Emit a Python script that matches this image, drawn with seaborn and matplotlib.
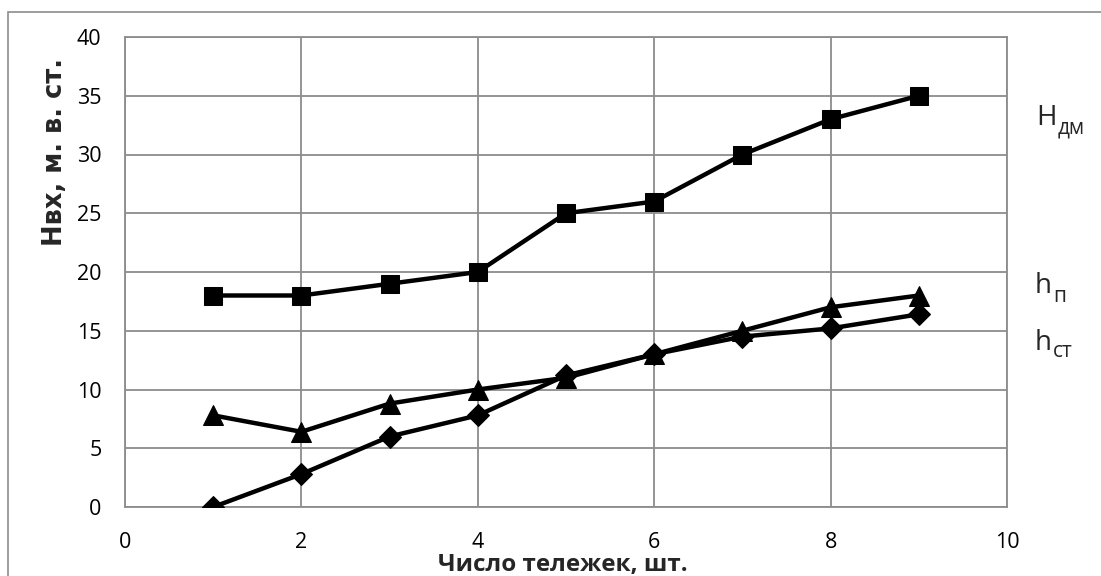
import matplotlib
matplotlib.use("Agg")
import matplotlib.pyplot as plt
from matplotlib.patches import Rectangle
import seaborn as sns
import pandas as pd

# Number of carts
carts = [1, 2, 3, 4, 5, 6, 7, 8, 9]
# Head values, m of water column
h_dm = [18, 18, 19, 20, 25, 26, 30, 33, 35]
h_p = [7.8, 6.4, 8.8, 10, 11, 13, 15, 17, 18]
h_st = [0, 2.8, 6.0, 7.8, 11.2, 13, 14.5, 15.2, 16.4]

x_ticks = [0, 2, 4, 6, 8, 10]
y_ticks = [0, 5, 10, 15, 20, 25, 30, 35, 40]

x_title = "Число тележек, шт."
y_title = "Нвх, м. в. ст."

sns.set_theme(style="white")
plt.rcParams["font.family"] = ["Open Sans", "DejaVu Sans"]

GRID = "#8c8c8c"
W, H = 1101, 576

fig = plt.figure(figsize=(W / 100, H / 100), dpi=100)
ax = fig.add_axes([125 / W, 1 - 507 / H, (1007 - 125) / W, (507 - 37) / H])

# outer chart frame
fig.patches.append(Rectangle((8 / W, -0.05), 1.1, 1.05 - 12 / H,
                             transform=fig.transFigure, fill=False,
                             edgecolor=GRID, linewidth=1.2, zorder=0))

df = pd.DataFrame({"x": carts, "dm": h_dm, "p": h_p, "st": h_st})
common = dict(color="black", linewidth=3.2, markeredgecolor="black",
              markerfacecolor="black", ax=ax, legend=False, zorder=3)
sns.lineplot(data=df, x="x", y="dm", marker="s", markersize=13, **common)
sns.lineplot(data=df, x="x", y="p", marker="^", markersize=14, **common)
sns.lineplot(data=df, x="x", y="st", marker="D", markersize=11, **common)

ax.set_xlim(0, 10)
ax.set_ylim(0, 40)
ax.set_xticks(x_ticks)
ax.set_yticks(y_ticks)
ax.set_xticklabels([str(t) for t in x_ticks])
ax.set_yticklabels([str(t) for t in y_ticks])
ax.grid(True, color=GRID, linewidth=1.3)
ax.set_axisbelow(True)
for s in ax.spines.values():
    s.set_color(GRID)
    s.set_linewidth(1.3)
ax.tick_params(axis="both", direction="out", length=6, width=1.3, color=GRID,
               labelsize=15.5, labelcolor="black")
ax.tick_params(axis="y", pad=11)
ax.tick_params(axis="x", pad=12)

ax.set_xlabel("")
ax.set_ylabel("")
fig.text(563 / W, 1 - 571 / H, x_title, ha="center", va="baseline",
         fontsize=17.5, fontweight="bold")
fig.text(55 / W, 1 - 152 / H, y_title, ha="center", va="center",
         rotation=90, fontsize=18.5, fontweight="bold",
         family=["DejaVu Sans"])

# series labels at the right, each with a lowered subscript
def series_label(x_px, base_px, main, sub, sub_drop):
    t = fig.text(x_px / W, 1 - base_px / H, main, ha="left", va="baseline",
                 fontsize=20)
    fig.canvas.draw()
    bb = t.get_window_extent()
    fig.text((bb.x1 + 1) / W, 1 - (base_px + sub_drop) / H, sub, ha="left",
             va="baseline", fontsize=15)

series_label(1036, 125, "H", "дм", 9)
series_label(1035, 293, "h", "п", 9)
series_label(1035, 350, "h", "ст", 7)

fig.savefig("out.png", dpi=100)
